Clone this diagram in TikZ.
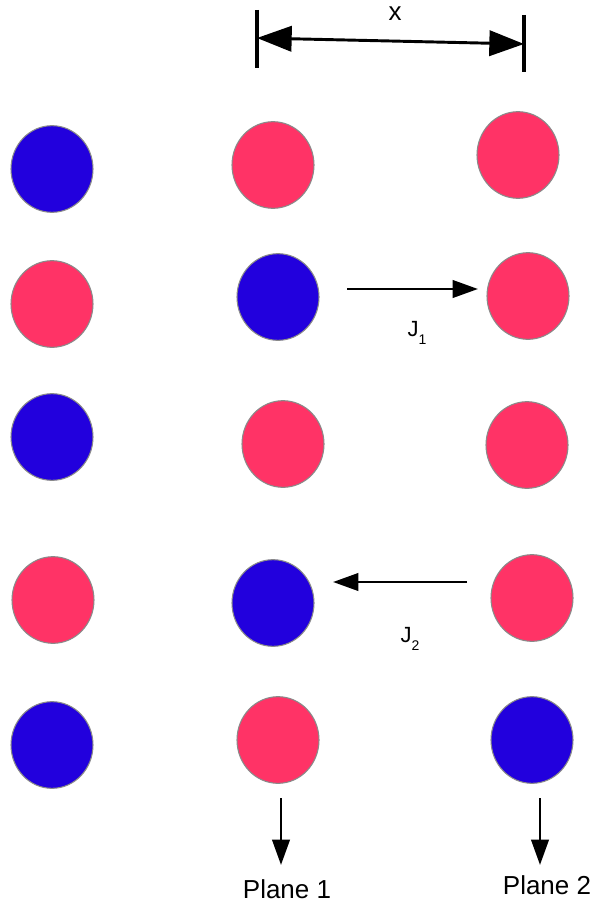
\documentclass[tikz,border=0pt]{standalone}
\usepackage{fontspec}
\setmainfont{Liberation Sans}
\usetikzlibrary{shapes.geometric,arrows.meta}
\definecolor{atomblue}{HTML}{2200DD}
\definecolor{atompink}{HTML}{FF3366}
\definecolor{rimgray}{HTML}{8A8A8A}
\newcommand{\jsub}[1]{\raisebox{-0.75ex}{\fontsize{10.5}{12}\selectfont #1}}
\tikzset{
  atom/.style={ellipse, draw=rimgray, line width=0.8pt, minimum width=61.5pt, minimum height=65pt, inner sep=0pt},
  bl/.style={atom, fill=atomblue},
  pk/.style={atom, fill=atompink},
  fatarrow/.style={line width=2.2pt, -{Triangle[length=19pt,width=13pt]}},
  dimarrow/.style={line width=2.2pt, {Triangle[length=26pt,width=19pt]}-{Triangle[length=26pt,width=19pt]}},
  tick/.style={line width=2.4pt},
  lbl/.style={inner sep=0pt, font=\fontsize{19.5}{23}\selectfont},
  jlbl/.style={inner sep=0pt, font=\fontsize{16.5}{19}\selectfont}
}
\begin{document}
\begin{tikzpicture}[x=0.75pt,y=-0.75pt]
\useasboundingbox[fill=white] (0,0) rectangle (594,906);
% column 1
\node[bl] (c11) at (52,169) {};
\node[pk] (c12) at (52,304) {};
\node[bl] (c13) at (52,437) {};
\node[pk] (c14) at (53,600) {};
\node[bl] (c15) at (52,745) {};
% column 2
\node[pk] (c21) at (273,165) {};
\node[bl] (c22) at (278,297) {};
\node[pk] (c23) at (283,444) {};
\node[bl] (c24) at (273,603) {};
\node[pk] (c25) at (278,740) {};
% column 3
\node[pk] (c31) at (518,155) {};
\node[pk] (c32) at (528,296) {};
\node[pk] (c33) at (527,445) {};
\node[pk] (c34) at (532,598) {};
\node[bl] (c35) at (532,740) {};
% dimension x
\coordinate (tl1) at (257,10);
\coordinate (tl2) at (257,68);
\coordinate (tr1) at (524,15);
\coordinate (tr2) at (524,72);
\draw[tick] (tl1) -- (tl2);
\draw[tick] (tr1) -- (tr2);
\coordinate (dl) at (257,38);
\coordinate (dr) at (524,44);
\draw[dimarrow] (dl) -- (dr);
\node[lbl] (xl) at (395,14) {x};
% J1
\coordinate (j1s) at (347,289);
\coordinate (j1e) at (478,289);
\draw[fatarrow] (j1s) -- (j1e);
\node[jlbl] (j1) at (417,333) {J\jsub{1}};
% J2
\coordinate (j2s) at (467,582);
\coordinate (j2e) at (333,582);
\draw[fatarrow] (j2s) -- (j2e);
\node[jlbl] (j2) at (410,639) {J\jsub{2}};
% planes
\coordinate (p1s) at (281,798);
\coordinate (p1e) at (281,865);
\coordinate (p2s) at (540,798);
\coordinate (p2e) at (540,865);
\draw[fatarrow] (p1s) -- (p1e);
\draw[fatarrow] (p2s) -- (p2e);
\node[lbl] (pl1) at (287,889) {Plane 1};
\node[lbl] (pl2) at (547,885) {Plane 2};
\end{tikzpicture}
\end{document}
